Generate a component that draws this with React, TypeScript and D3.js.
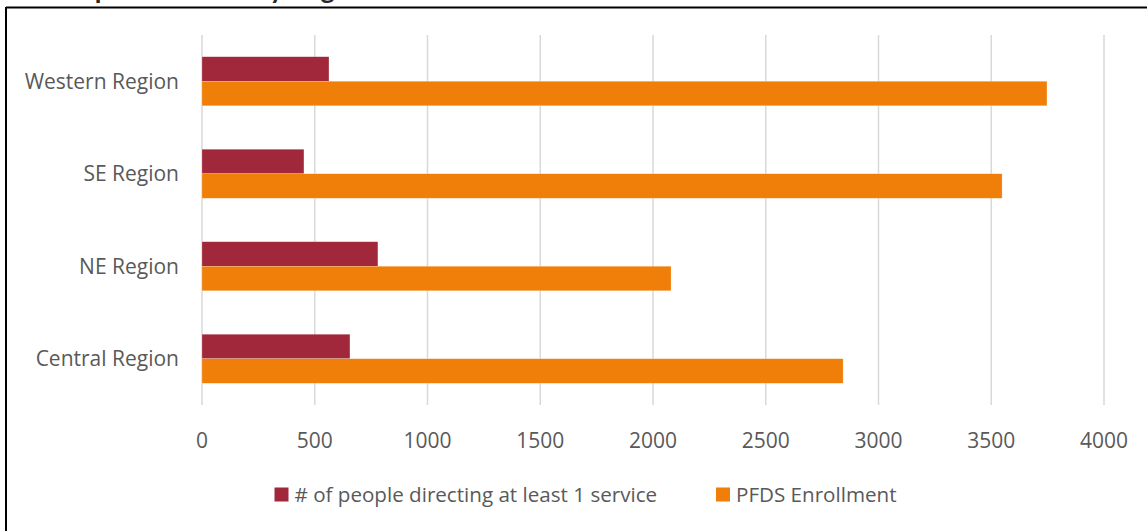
import React from "react";
import * as d3 from "d3";

const categories = ["Western Region", "SE Region", "NE Region", "Central Region"];
const seriesNames = ["# of people directing at least 1 service", "PFDS Enrollment"];
const directingValues = [563, 452, 780, 656];
const enrollmentValues = [3747, 3548, 2080, 2843];
const xTicks = [0, 500, 1000, 1500, 2000, 2500, 3000, 3500, 4000];
const titleText = "Group Enrollment by Region";

const W = 1147;
const H = 531;
const COLORS = ["#A0283A", "#F07F0A"];
const FONT = "'Open Sans', sans-serif";
const TEXT = "#595959";

export default function App() {
  const x = d3.scaleLinear().domain([0, 4000]).range([202, 1104]);
  const y = d3.scaleBand<string>().domain(categories).range([35, 405]).paddingInner(0.47).paddingOuter(0.235);
  const series = [directingValues, enrollmentValues];
  const barH = y.bandwidth() / 2;
  const legendX = [274.5, 716];

  return (
    <svg width={W} height={H} style={{ position: "absolute", left: 0, top: 0, background: "#fff" }} fontFamily={FONT}>
      <rect x={0} y={0} width={W} height={H} fill="#fff" />
      <text x={35} y={-1} fontSize={27} fontWeight="bold" fill="#262626" fontFamily="Lato, sans-serif">{titleText}</text>
      <line x1={6} y1={7.5} x2={W} y2={7.5} stroke="#000" strokeWidth={2} />
      <line x1={6} y1={7} x2={6} y2={H} stroke="#000" strokeWidth={2} />
      {xTicks.map((t) => (
        <g key={t}>
          <line x1={x(t)} x2={x(t)} y1={35} y2={405} stroke="#d9d9d9" strokeWidth={1.5} />
          <text x={x(t)} y={441} dy="0.35em" textAnchor="middle" fontSize={21} fill={TEXT}>{t}</text>
        </g>
      ))}
      {categories.map((c, i) => (
        <g key={c}>
          {series.map((vals, s) => (
            <rect key={s} x={x(0)} y={(y(c) as number) + s * barH} width={x(vals[i]) - x(0)} height={barH} fill={COLORS[s]} stroke="#fff" strokeOpacity={0.4} strokeWidth={0.5} />
          ))}
          <text x={179} y={(y(c) as number) + barH} dy="0.35em" textAnchor="end" fontSize={21} fill={TEXT}>{c}</text>
        </g>
      ))}
      {seriesNames.map((name, s) => (
        <g key={name}>
          <rect x={legendX[s]} y={487.5} width={14} height={14} fill={COLORS[s]} />
          <text x={legendX[s] + 20} y={494.5} dy="0.35em" fontSize={20.6} fill={TEXT}>{name}</text>
        </g>
      ))}
    </svg>
  );
}
